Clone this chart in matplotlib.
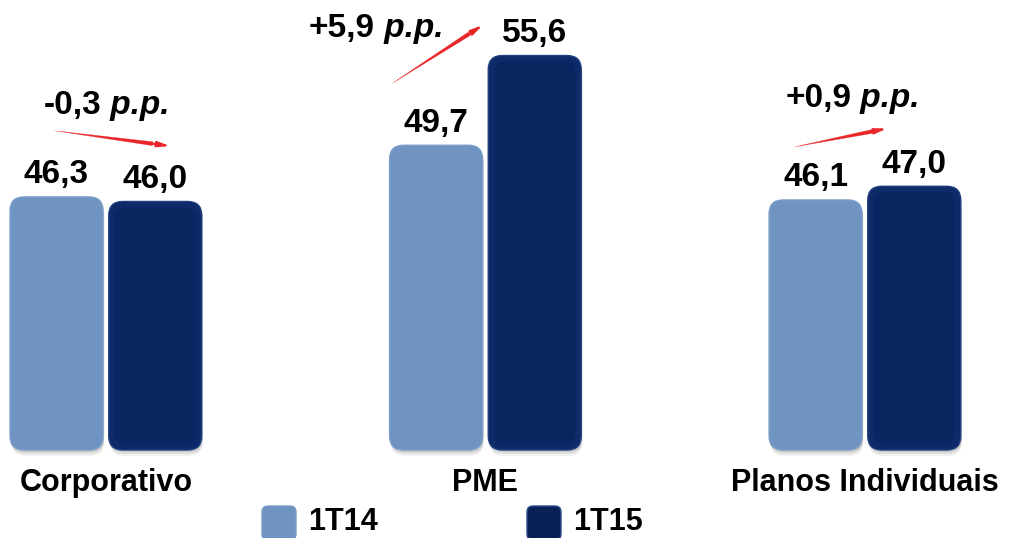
import numpy as np
import matplotlib
matplotlib.use("Agg")
import matplotlib.pyplot as plt
from matplotlib.patches import FancyBboxPatch

plt.rcParams['font.family'] = ['Liberation Sans', 'DejaVu Sans']

# data
categories = ['Corporativo', 'PME', 'Planos Individuais']
series_names = ['1T14', '1T15']
v_1t14 = [46.3, 49.7, 46.1]
v_1t15 = [46.0, 55.6, 47.0]
changes = ['-0,3', '+5,9', '+0,9']

# colours
c_light = '#6f94c2'
c_dark = '#0b2461'
c_dark_edge = '#2b4c8c'
c_arrow = '#e8262a'

fig = plt.figure(figsize=(10.19, 5.38), dpi=100)
ax = fig.add_axes([0, 88 / 538, 1, 450 / 538])

ymin = 29.65
ymax = ymin + 450 / 15.2
ax.set_ylim(ymin, ymax)
ax.set_xlim(-0.279, 2.406)

x = np.arange(len(categories))
width = 0.245
off = 0.13

# rounded corners: ~14px radius
rx = 14 / 379.5
ry = 14 / 15.2
aspect = ry / rx


def round_bars(bars, face, edge, bevel=None):
    for b in bars:
        x0, y0 = b.get_xy()
        w, h = b.get_width(), b.get_height()
        b.set_visible(False)
        # soft shadow
        for k, a in [(6, 0.08), (4, 0.12), (2, 0.15)]:
            sh = FancyBboxPatch((x0 + 0.003, y0 - k / 15.2), w, h,
                                boxstyle=f"round,pad=0,rounding_size={rx}",
                                mutation_aspect=aspect, fc='#555555', ec='none',
                                alpha=a, clip_on=False, zorder=1)
            ax.add_patch(sh)
        p = FancyBboxPatch((x0, y0), w, h,
                           boxstyle=f"round,pad=0,rounding_size={rx}",
                           mutation_aspect=aspect, fc=face, ec=edge, lw=1.0,
                           clip_on=False, zorder=2)
        ax.add_patch(p)
        if bevel:
            # slightly darker inner face for a soft bevelled look
            ix, iy = 6 / 379.5, 6 / 15.2
            inner = FancyBboxPatch((x0 + ix, y0 + iy), w - 2 * ix, h - 2 * iy,
                                   boxstyle=f"round,pad=0,rounding_size={rx * 0.7}",
                                   mutation_aspect=aspect, fc=bevel, ec='none',
                                   alpha=0.45, clip_on=False, zorder=2.5)
            ax.add_patch(inner)


bars1 = ax.bar(x - off, np.array(v_1t14) - ymin, width, bottom=ymin, color=c_light)
bars2 = ax.bar(x + off, np.array(v_1t15) - ymin, width, bottom=ymin, color=c_dark)
round_bars(bars1, c_light, '#7b9dc8')
round_bars(bars2, '#0f2a69', '#1f3f7e', bevel='#081f58')

# value labels
for xs, vals in [(x - off, v_1t14), (x + off, v_1t15)]:
    for xi, v in zip(xs, vals):
        ax.annotate(f"{v:.1f}".replace('.', ','), (xi, v), xytext=(0, 16),
                    textcoords='offset points', ha='center', va='center',
                    fontsize=24, fontweight='bold', zorder=5)

# change annotations and arrows
text_pos = [(0.0, 52.3), (0.70, 57.35), (1.955, 52.75)]
arrows = [((-0.134, 50.65), (0.169, 49.65)),
          ((0.756, 53.8), (0.993, 57.6)),
          ((1.816, 49.6), (2.058, 50.8))]

for ch, (tx, ty), (a0, a1) in zip(changes, text_pos, arrows):
    t1 = ax.text(tx - 0.165, ty, ch, ha='left', va='center',
                 fontsize=24, fontweight='bold')
    ax.annotate(' p.p.', xy=(1, 0), xycoords=t1, ha='left', va='bottom',
                fontsize=24, fontweight='bold', fontstyle='italic')
    # tapered body: thin at the tail, wider towards the head
    mid = (a0[0] + 0.85 * (a1[0] - a0[0]), a0[1] + 0.85 * (a1[1] - a0[1]))
    ax.annotate('', xy=a0, xytext=mid,
                arrowprops=dict(arrowstyle='wedge,tail_width=0.28,shrink_factor=0.5',
                                fc=c_arrow, ec=c_arrow, lw=0.2,
                                shrinkA=0, shrinkB=0),
                zorder=4)
    ax.annotate('', xy=a1, xytext=mid,
                arrowprops=dict(arrowstyle='-|>,head_length=0.7,head_width=0.16',
                                fc=c_arrow, ec=c_arrow, lw=1.5,
                                shrinkA=0, shrinkB=0),
                zorder=4)

# axis styling
ax.set_xticks(x, categories, fontsize=22, fontweight='bold')
ax.tick_params(axis='x', length=0, pad=13)
ax.set_yticks([])
for s in ax.spines.values():
    s.set_visible(False)

# legend drawn by hand at the bottom
leg_x = [262, 527]
leg_cols = [(c_light, '#7b9dc8'), ('#0a2158', c_dark_edge)]
for lx, name, (fc, ec) in zip(leg_x, series_names, leg_cols):
    sq = FancyBboxPatch((lx / 1019, (538 - 540) / 538), 34 / 1019, 34 / 538,
                        boxstyle=f"round,pad=0,rounding_size={6 / 1019}",
                        mutation_aspect=(1019 / 538), fc=fc, ec=ec, lw=1,
                        transform=fig.transFigure, clip_on=False)
    fig.patches.append(sq)
    fig.text((lx + 46) / 1019, 1 - 522 / 538, name, ha='left', va='center',
             fontsize=22, fontweight='bold')

fig.savefig('out.png', dpi=100)
